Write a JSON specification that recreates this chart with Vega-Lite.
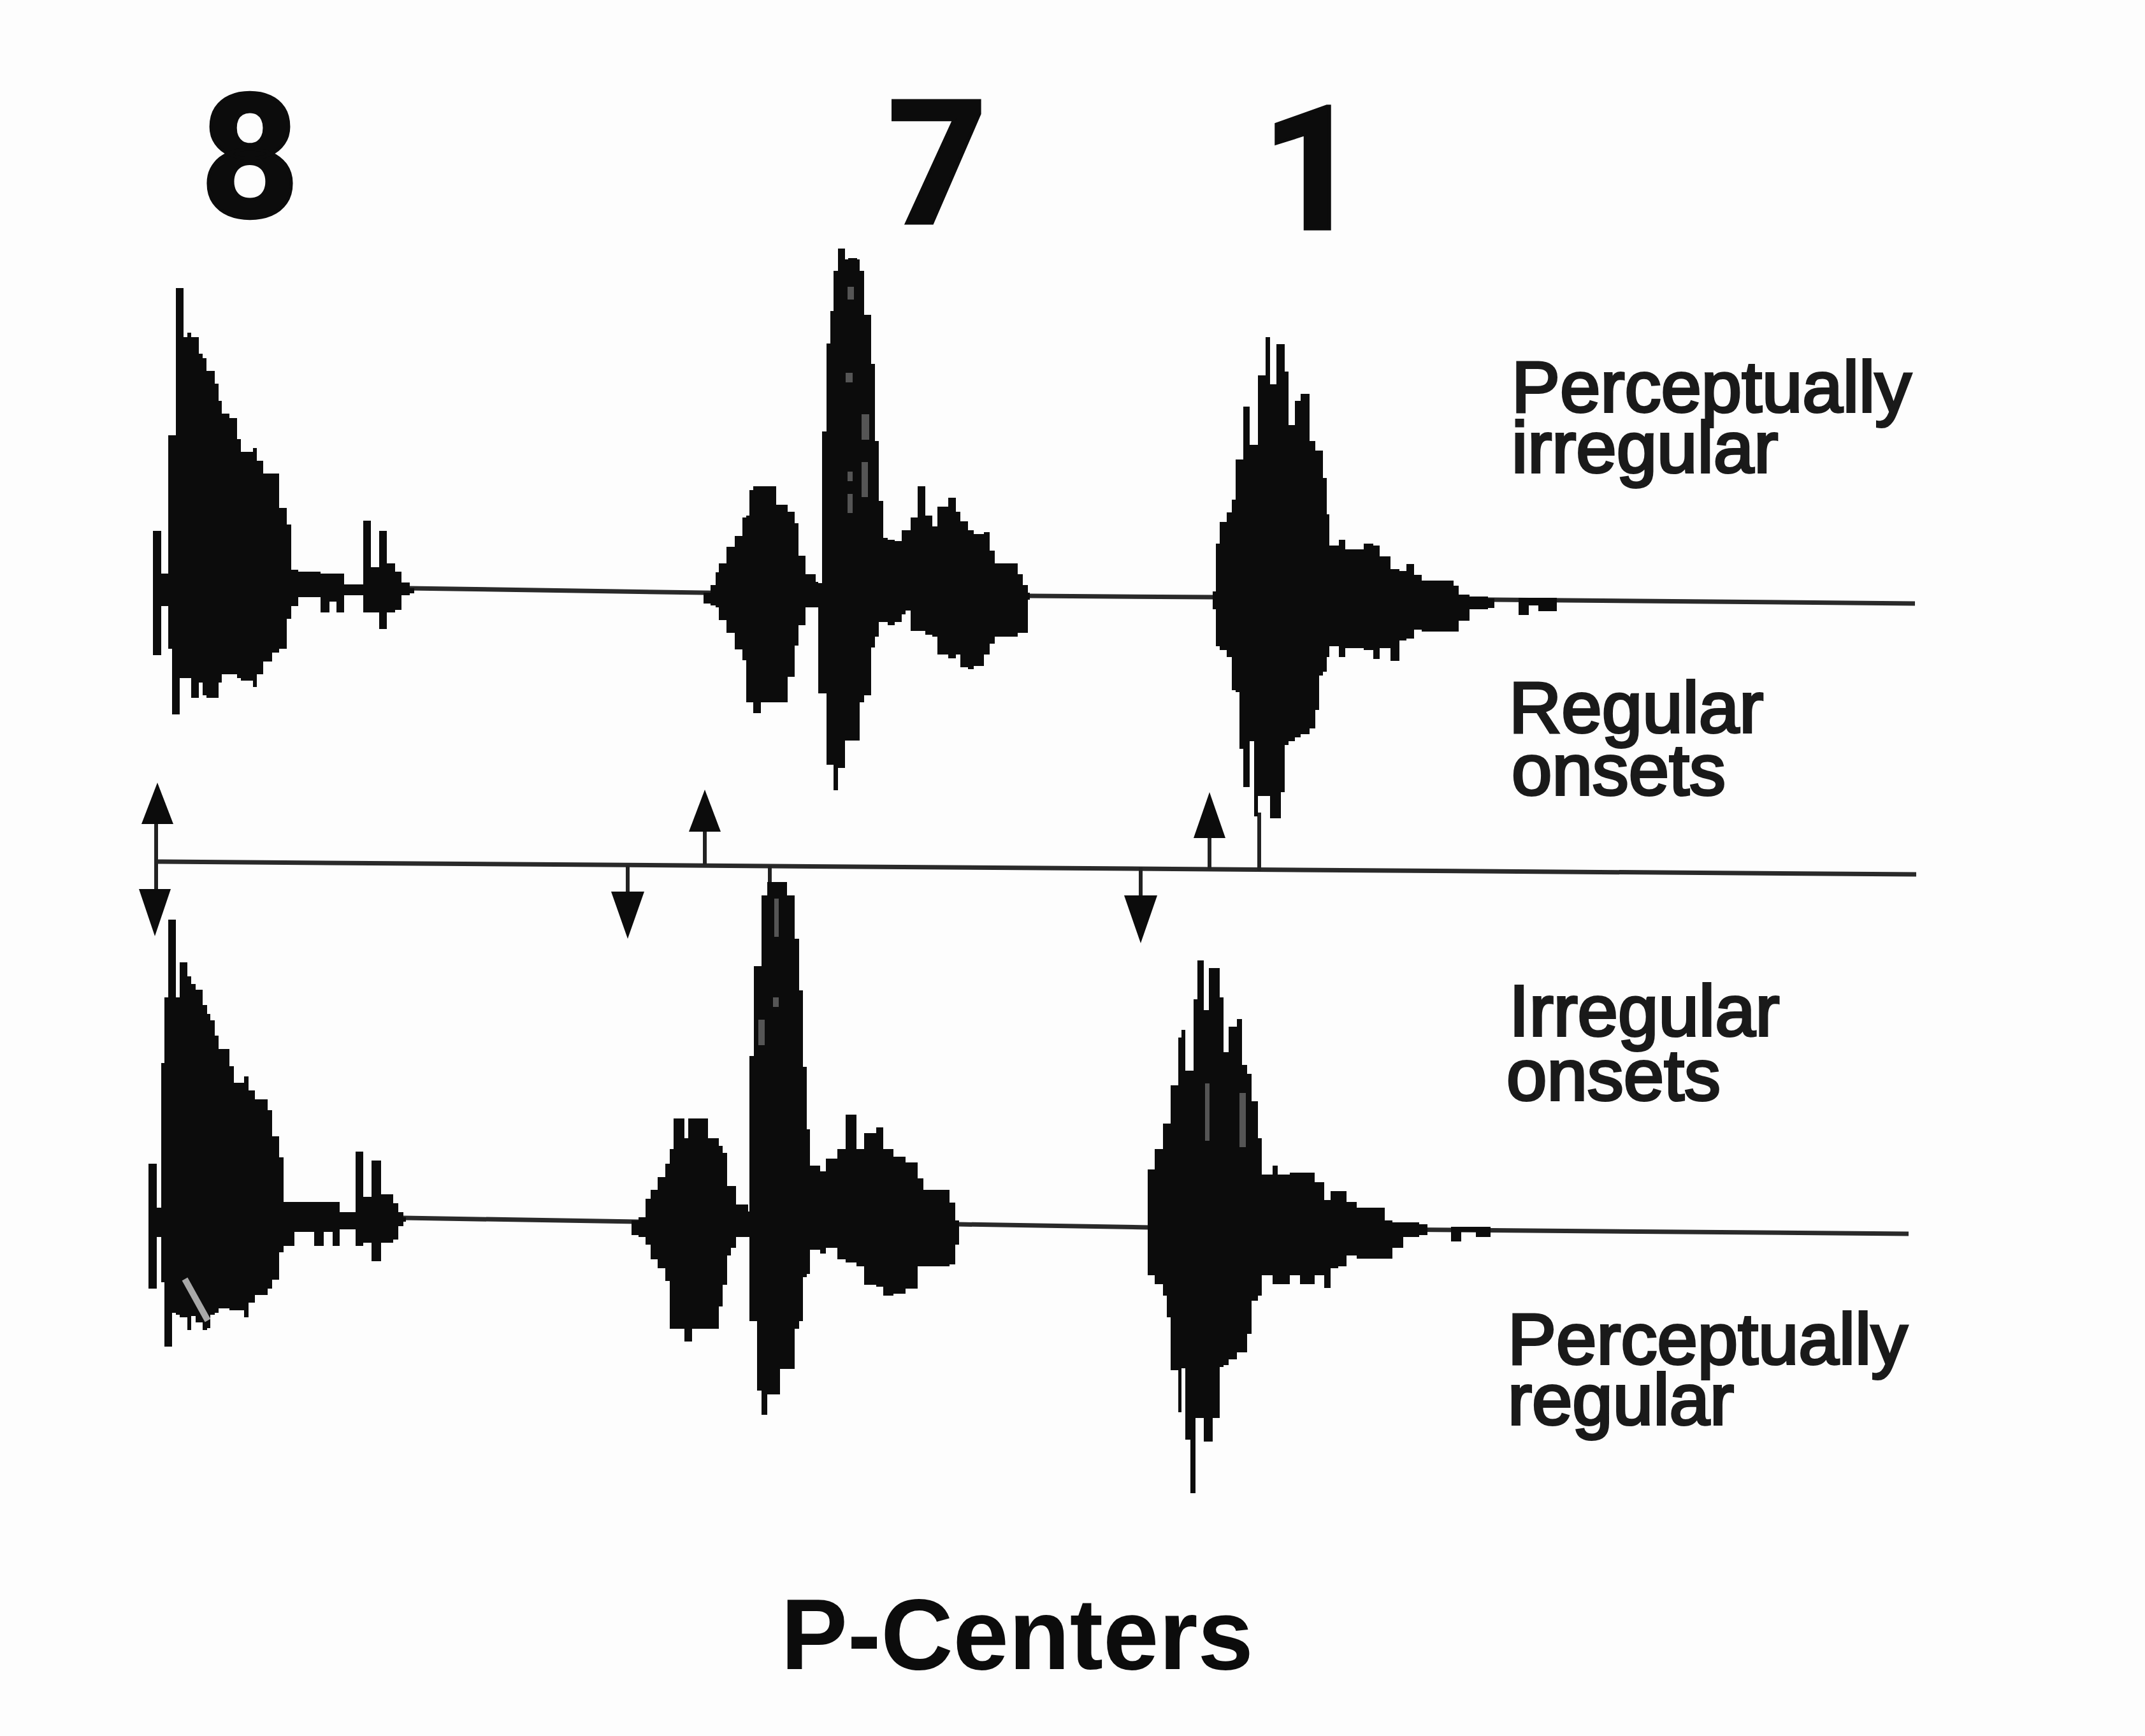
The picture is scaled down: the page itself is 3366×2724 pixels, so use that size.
{
"$schema":"https://vega.github.io/schema/vega-lite/v6.json",
"autosize":{"type":"fit","contains":"padding"},
"width":3366,"height":2724,"padding":0,
"background":"#fdfdfd",
"config":{"view":{"stroke":null}},
"datasets":{
"wave":[
{"w":"A1","t":240,"top":833,"bot":1028},{"w":"A1","t":253,"top":900,"bot":951},{"w":"A1","t":264,"top":683,"bot":1018},{"w":"A1","t":270,"top":683,"bot":1121},{"w":"A1","t":276,"top":452,"bot":1121},{"w":"A1","t":282,"top":452,"bot":1064},{"w":"A1","t":288,"top":529,"bot":1064},{"w":"A1","t":294,"top":522,"bot":1064},{"w":"A1","t":300,"top":529,"bot":1095},{"w":"A1","t":312,"top":555,"bot":1071},{"w":"A1","t":318,"top":562,"bot":1091},{"w":"A1","t":324,"top":582,"bot":1095},{"w":"A1","t":337,"top":602,"bot":1095},{"w":"A1","t":343,"top":629,"bot":1071},{"w":"A1","t":348,"top":649,"bot":1058},{"w":"A1","t":360,"top":656,"bot":1058},{"w":"A1","t":372,"top":689,"bot":1064},{"w":"A1","t":378,"top":709,"bot":1068},{"w":"A1","t":397,"top":703,"bot":1078},{"w":"A1","t":403,"top":723,"bot":1058},{"w":"A1","t":413,"top":743,"bot":1038},{"w":"A1","t":427,"top":743,"bot":1024},{"w":"A1","t":438,"top":797,"bot":1018},{"w":"A1","t":450,"top":823,"bot":971},{"w":"A1","t":457,"top":894,"bot":951},{"w":"A1","t":468,"top":897,"bot":937},{"w":"A1","t":503,"top":900,"bot":961},{"w":"A1","t":517,"top":900,"bot":944},{"w":"A1","t":528,"top":900,"bot":961},{"w":"A1","t":540,"top":917,"bot":934},{"w":"A1","t":570,"top":817,"bot":961},{"w":"A1","t":582,"top":890,"bot":961},{"w":"A1","t":595,"top":833,"bot":987},{"w":"A1","t":607,"top":884,"bot":961},{"w":"A1","t":620,"top":897,"bot":957},{"w":"A1","t":630,"top":914,"bot":934},{"w":"A1","t":643,"top":923,"bot":931},{"w":"A1","t":650,"top":923,"bot":931},
{"w":"A2","t":1104,"top":930,"bot":947},{"w":"A2","t":1115,"top":918,"bot":950},{"w":"A2","t":1123,"top":898,"bot":953},{"w":"A2","t":1128,"top":884,"bot":973},{"w":"A2","t":1140,"top":858,"bot":993},{"w":"A2","t":1153,"top":841,"bot":1019},{"w":"A2","t":1165,"top":812,"bot":1036},{"w":"A2","t":1171,"top":809,"bot":1102},{"w":"A2","t":1176,"top":769,"bot":1102},{"w":"A2","t":1182,"top":763,"bot":1119},{"w":"A2","t":1194,"top":763,"bot":1102},{"w":"A2","t":1218,"top":792,"bot":1102},{"w":"A2","t":1236,"top":803,"bot":1062},{"w":"A2","t":1247,"top":821,"bot":1013},{"w":"A2","t":1253,"top":872,"bot":981},{"w":"A2","t":1264,"top":901,"bot":953},{"w":"A2","t":1280,"top":913,"bot":953},{"w":"A2","t":1284,"top":915,"bot":1088},{"w":"A2","t":1290,"top":677,"bot":1088},{"w":"A2","t":1297,"top":539,"bot":1200},{"w":"A2","t":1303,"top":488,"bot":1200},{"w":"A2","t":1308,"top":425,"bot":1240},{"w":"A2","t":1315,"top":390,"bot":1205},{"w":"A2","t":1326,"top":407,"bot":1162},{"w":"A2","t":1331,"top":405,"bot":1162},{"w":"A2","t":1345,"top":407,"bot":1162},{"w":"A2","t":1349,"top":425,"bot":1102},{"w":"A2","t":1356,"top":494,"bot":1091},{"w":"A2","t":1367,"top":571,"bot":1016},{"w":"A2","t":1373,"top":692,"bot":999},{"w":"A2","t":1379,"top":786,"bot":976},{"w":"A2","t":1386,"top":844,"bot":976},{"w":"A2","t":1393,"top":847,"bot":981},{"w":"A2","t":1404,"top":849,"bot":976},{"w":"A2","t":1415,"top":832,"bot":964},{"w":"A2","t":1421,"top":832,"bot":958},{"w":"A2","t":1429,"top":812,"bot":990},{"w":"A2","t":1440,"top":763,"bot":990},{"w":"A2","t":1452,"top":809,"bot":996},{"w":"A2","t":1463,"top":826,"bot":999},{"w":"A2","t":1471,"top":795,"bot":1027},{"w":"A2","t":1488,"top":781,"bot":1033},{"w":"A2","t":1500,"top":803,"bot":1027},{"w":"A2","t":1507,"top":818,"bot":1047},{"w":"A2","t":1519,"top":832,"bot":1050},{"w":"A2","t":1528,"top":838,"bot":1045},{"w":"A2","t":1544,"top":835,"bot":1027},{"w":"A2","t":1553,"top":864,"bot":1010},{"w":"A2","t":1561,"top":884,"bot":999},{"w":"A2","t":1597,"top":901,"bot":993},{"w":"A2","t":1605,"top":918,"bot":993},{"w":"A2","t":1613,"top":930,"bot":941},{"w":"A2","t":1616,"top":930,"bot":941},
{"w":"A3","t":1903,"top":928,"bot":956},{"w":"A3","t":1908,"top":853,"bot":1014},{"w":"A3","t":1914,"top":819,"bot":1020},{"w":"A3","t":1925,"top":804,"bot":1031},{"w":"A3","t":1933,"top":784,"bot":1083},{"w":"A3","t":1939,"top":721,"bot":1086},{"w":"A3","t":1945,"top":721,"bot":1175},{"w":"A3","t":1951,"top":638,"bot":1235},{"w":"A3","t":1961,"top":698,"bot":1163},{"w":"A3","t":1968,"top":698,"bot":1281},{"w":"A3","t":1974,"top":589,"bot":1249},{"w":"A3","t":1986,"top":529,"bot":1249},{"w":"A3","t":1993,"top":603,"bot":1284},{"w":"A3","t":2003,"top":540,"bot":1284},{"w":"A3","t":2010,"top":540,"bot":1243},{"w":"A3","t":2016,"top":583,"bot":1169},{"w":"A3","t":2022,"top":667,"bot":1163},{"w":"A3","t":2032,"top":629,"bot":1157},{"w":"A3","t":2041,"top":618,"bot":1152},{"w":"A3","t":2055,"top":692,"bot":1143},{"w":"A3","t":2064,"top":707,"bot":1114},{"w":"A3","t":2070,"top":707,"bot":1060},{"w":"A3","t":2076,"top":750,"bot":1054},{"w":"A3","t":2082,"top":807,"bot":1031},{"w":"A3","t":2086,"top":856,"bot":1014},{"w":"A3","t":2101,"top":847,"bot":1031},{"w":"A3","t":2111,"top":862,"bot":1017},{"w":"A3","t":2140,"top":853,"bot":1020},{"w":"A3","t":2155,"top":856,"bot":1034},{"w":"A3","t":2165,"top":873,"bot":1017},{"w":"A3","t":2182,"top":893,"bot":1037},{"w":"A3","t":2196,"top":896,"bot":1005},{"w":"A3","t":2207,"top":885,"bot":1002},{"w":"A3","t":2219,"top":902,"bot":988},{"w":"A3","t":2231,"top":911,"bot":991},{"w":"A3","t":2281,"top":919,"bot":991},{"w":"A3","t":2289,"top":933,"bot":974},{"w":"A3","t":2306,"top":936,"bot":956},{"w":"A3","t":2335,"top":939,"bot":954},{"w":"A3","t":2345,"top":939,"bot":950},
{"w":"A3b","t":2383,"top":938,"bot":965},{"w":"A3b","t":2399,"top":938,"bot":950},{"w":"A3b","t":2414,"top":938,"bot":959},{"w":"A3b","t":2443,"top":938,"bot":950},
{"w":"B1","t":233,"top":1826,"bot":2022},{"w":"B1","t":246,"top":1895,"bot":1941},{"w":"B1","t":253,"top":1668,"bot":2012},{"w":"B1","t":258,"top":1565,"bot":2113},{"w":"B1","t":264,"top":1443,"bot":2113},{"w":"B1","t":270,"top":1443,"bot":2060},{"w":"B1","t":276,"top":1565,"bot":2063},{"w":"B1","t":282,"top":1510,"bot":2067},{"w":"B1","t":294,"top":1532,"bot":2087},{"w":"B1","t":300,"top":1544,"bot":2065},{"w":"B1","t":307,"top":1553,"bot":2075},{"w":"B1","t":318,"top":1577,"bot":2087},{"w":"B1","t":325,"top":1591,"bot":2084},{"w":"B1","t":330,"top":1601,"bot":2063},{"w":"B1","t":337,"top":1625,"bot":2060},{"w":"B1","t":343,"top":1646,"bot":2053},{"w":"B1","t":360,"top":1673,"bot":2056},{"w":"B1","t":367,"top":1699,"bot":2056},{"w":"B1","t":383,"top":1689,"bot":2067},{"w":"B1","t":390,"top":1711,"bot":2044},{"w":"B1","t":400,"top":1725,"bot":2032},{"w":"B1","t":420,"top":1742,"bot":2022},{"w":"B1","t":427,"top":1783,"bot":2008},{"w":"B1","t":438,"top":1816,"bot":1965},{"w":"B1","t":445,"top":1886,"bot":1955},{"w":"B1","t":462,"top":1886,"bot":1933},{"w":"B1","t":493,"top":1886,"bot":1955},{"w":"B1","t":508,"top":1886,"bot":1933},{"w":"B1","t":522,"top":1886,"bot":1955},{"w":"B1","t":533,"top":1902,"bot":1929},{"w":"B1","t":558,"top":1807,"bot":1955},{"w":"B1","t":570,"top":1878,"bot":1950},{"w":"B1","t":583,"top":1821,"bot":1979},{"w":"B1","t":598,"top":1874,"bot":1950},{"w":"B1","t":617,"top":1888,"bot":1945},{"w":"B1","t":625,"top":1902,"bot":1924},{"w":"B1","t":633,"top":1910,"bot":1917},{"w":"B1","t":637,"top":1910,"bot":1917},
{"w":"B2","t":991,"top":1915,"bot":1938},{"w":"B2","t":1002,"top":1910,"bot":1941},{"w":"B2","t":1013,"top":1881,"bot":1953},{"w":"B2","t":1021,"top":1867,"bot":1976},{"w":"B2","t":1032,"top":1847,"bot":1990},{"w":"B2","t":1044,"top":1826,"bot":2010},{"w":"B2","t":1051,"top":1803,"bot":2085},{"w":"B2","t":1057,"top":1755,"bot":2085},{"w":"B2","t":1074,"top":1786,"bot":2105},{"w":"B2","t":1080,"top":1755,"bot":2105},{"w":"B2","t":1086,"top":1755,"bot":2085},{"w":"B2","t":1111,"top":1786,"bot":2085},{"w":"B2","t":1128,"top":1798,"bot":2050},{"w":"B2","t":1134,"top":1809,"bot":2016},{"w":"B2","t":1141,"top":1861,"bot":1970},{"w":"B2","t":1147,"top":1861,"bot":1958},{"w":"B2","t":1155,"top":1890,"bot":1941},{"w":"B2","t":1174,"top":1901,"bot":1941},{"w":"B2","t":1176,"top":1657,"bot":2073},{"w":"B2","t":1183,"top":1516,"bot":2073},{"w":"B2","t":1188,"top":1516,"bot":2182},{"w":"B2","t":1195,"top":1405,"bot":2220},{"w":"B2","t":1204,"top":1384,"bot":2188},{"w":"B2","t":1224,"top":1384,"bot":2148},{"w":"B2","t":1235,"top":1405,"bot":2148},{"w":"B2","t":1247,"top":1473,"bot":2085},{"w":"B2","t":1254,"top":1554,"bot":2073},{"w":"B2","t":1260,"top":1674,"bot":2004},{"w":"B2","t":1266,"top":1772,"bot":1999},{"w":"B2","t":1271,"top":1829,"bot":1961},{"w":"B2","t":1287,"top":1838,"bot":1967},{"w":"B2","t":1296,"top":1818,"bot":1958},{"w":"B2","t":1314,"top":1803,"bot":1976},{"w":"B2","t":1327,"top":1749,"bot":1981},{"w":"B2","t":1344,"top":1803,"bot":1987},{"w":"B2","t":1356,"top":1778,"bot":2016},{"w":"B2","t":1375,"top":1769,"bot":2019},{"w":"B2","t":1386,"top":1803,"bot":2033},{"w":"B2","t":1402,"top":1815,"bot":2030},{"w":"B2","t":1421,"top":1824,"bot":2022},{"w":"B2","t":1440,"top":1849,"bot":1987},{"w":"B2","t":1449,"top":1867,"bot":1987},{"w":"B2","t":1490,"top":1887,"bot":1984},{"w":"B2","t":1499,"top":1915,"bot":1953},{"w":"B2","t":1505,"top":1915,"bot":1953},
{"w":"B3","t":1801,"top":1835,"bot":2001},{"w":"B3","t":1812,"top":1803,"bot":2015},{"w":"B3","t":1825,"top":1763,"bot":2033},{"w":"B3","t":1831,"top":1763,"bot":2067},{"w":"B3","t":1837,"top":1703,"bot":2150},{"w":"B3","t":1849,"top":1628,"bot":2216},{"w":"B3","t":1854,"top":1616,"bot":2147},{"w":"B3","t":1860,"top":1680,"bot":2259},{"w":"B3","t":1868,"top":1680,"bot":2343},{"w":"B3","t":1873,"top":1568,"bot":2343},{"w":"B3","t":1876,"top":1568,"bot":2225},{"w":"B3","t":1879,"top":1507,"bot":2225},{"w":"B3","t":1889,"top":1585,"bot":2262},{"w":"B3","t":1897,"top":1519,"bot":2262},{"w":"B3","t":1903,"top":1519,"bot":2225},{"w":"B3","t":1914,"top":1565,"bot":2145},{"w":"B3","t":1920,"top":1651,"bot":2142},{"w":"B3","t":1928,"top":1611,"bot":2133},{"w":"B3","t":1941,"top":1599,"bot":2122},{"w":"B3","t":1949,"top":1671,"bot":2122},{"w":"B3","t":1957,"top":1685,"bot":2093},{"w":"B3","t":1964,"top":1728,"bot":2041},{"w":"B3","t":1974,"top":1786,"bot":2033},{"w":"B3","t":1980,"top":1843,"bot":2001},{"w":"B3","t":1997,"top":1829,"bot":2015},{"w":"B3","t":2005,"top":1843,"bot":2015},{"w":"B3","t":2024,"top":1840,"bot":2001},{"w":"B3","t":2040,"top":1840,"bot":2015},{"w":"B3","t":2063,"top":1855,"bot":2001},{"w":"B3","t":2078,"top":1883,"bot":2021},{"w":"B3","t":2088,"top":1869,"bot":1990},{"w":"B3","t":2100,"top":1869,"bot":1987},{"w":"B3","t":2113,"top":1886,"bot":1970},{"w":"B3","t":2129,"top":1895,"bot":1975},{"w":"B3","t":2173,"top":1915,"bot":1975},{"w":"B3","t":2185,"top":1918,"bot":1958},{"w":"B3","t":2202,"top":1918,"bot":1941},{"w":"B3","t":2227,"top":1921,"bot":1938},{"w":"B3","t":2240,"top":1921,"bot":1935},
{"w":"B3b","t":2277,"top":1925,"bot":1948},{"w":"B3b","t":2293,"top":1925,"bot":1933},{"w":"B3b","t":2316,"top":1925,"bot":1941},{"w":"B3b","t":2339,"top":1925,"bot":1933}
],
"heads":[
{"w":"a","t":222,"top":1293,"bot":1293},{"w":"a","t":247,"top":1228,"bot":1293},{"w":"a","t":272,"top":1293,"bot":1293},
{"w":"b","t":218,"top":1395,"bot":1395},{"w":"b","t":243,"top":1395,"bot":1469},{"w":"b","t":268,"top":1395,"bot":1395},
{"w":"c","t":1081,"top":1305,"bot":1305},{"w":"c","t":1106,"top":1239,"bot":1305},{"w":"c","t":1131,"top":1305,"bot":1305},
{"w":"d","t":1873,"top":1315,"bot":1315},{"w":"d","t":1898,"top":1243,"bot":1315},{"w":"d","t":1923,"top":1315,"bot":1315},
{"w":"e","t":959,"top":1399,"bot":1399},{"w":"e","t":985,"top":1399,"bot":1473},{"w":"e","t":1011,"top":1399,"bot":1399},
{"w":"f","t":1764,"top":1405,"bot":1405},{"w":"f","t":1790,"top":1405,"bot":1480},{"w":"f","t":1816,"top":1405,"bot":1405}
],
"stems":[
{"t":245,"y1":1270,"y2":1420},{"t":1106,"y1":1300,"y2":1357},{"t":1898,"y1":1310,"y2":1364},{"t":1976,"y1":1275,"y2":1366},{"t":985,"y1":1358,"y2":1400},{"t":1790,"y1":1361,"y2":1406},{"t":1208,"y1":1359,"y2":1390}
],
"lines":[
{"s":"A","t":640,"y":923},{"s":"A","t":1104,"y":930},{"s":"A","t":1616,"y":935},{"s":"A","t":1903,"y":937},{"s":"A","t":3005,"y":947},
{"s":"T","t":247,"y":1352},{"s":"T","t":3007,"y":1372},
{"s":"B","t":633,"y":1911},{"s":"B","t":1000,"y":1917},{"s":"B","t":1503,"y":1921},{"s":"B","t":1803,"y":1926},{"s":"B","t":2995,"y":1936}
],
"specks":[
{"t":1327,"t2":1338,"y1":585,"y2":600},{"t":1352,"t2":1364,"y1":650,"y2":690},{"t":1330,"t2":1338,"y1":740,"y2":755},{"t":1330,"t2":1338,"y1":775,"y2":805},{"t":1352,"t2":1362,"y1":725,"y2":780},
{"t":1891,"t2":1898,"y1":1700,"y2":1790},{"t":1945,"t2":1955,"y1":1715,"y2":1800},{"t":1330,"t2":1340,"y1":450,"y2":470},
{"t":1213,"t2":1222,"y1":1565,"y2":1580},{"t":1215,"t2":1222,"y1":1410,"y2":1470},{"t":1190,"t2":1200,"y1":1600,"y2":1640}
],
"scratch":[{"t":290,"y":2007},{"t":326,"y":2072}],
"numerals":[{"label":"8","t":392,"y":340},{"label":"7","t":1471,"y":350},{"label":"1","t":2058,"y":359}],
"notes":[
{"label":"Perceptually","t":2372,"y":646},{"label":"irregular","t":2372,"y":741},{"label":"Regular","t":2368,"y":1149},{"label":"onsets","t":2372,"y":1247},{"label":"Irregular","t":2368,"y":1625},{"label":"onsets","t":2364,"y":1726},{"label":"Perceptually","t":2366,"y":2140},{"label":"regular","t":2366,"y":2235}
],
"caption":[{"label":"P-Centers","t":1596,"y":2619}]
},
"encoding":{
"x":{"field":"t","type":"quantitative","scale":{"domain":[0,3366],"nice":false,"zero":false},"axis":null},
"y":{"field":"y","type":"quantitative","scale":{"domain":[2724,0],"nice":false,"zero":false},"axis":null}
},
"layer":[
{"data":{"name":"lines"},"mark":{"type":"line","color":"#2a2a2a","strokeWidth":7},"encoding":{"detail":{"field":"s"}}},
{"data":{"name":"stems"},"mark":{"type":"rule","color":"#222222","strokeWidth":6},"encoding":{"y":{"field":"y1","type":"quantitative","scale":{"domain":[2724,0],"nice":false,"zero":false},"axis":null},"y2":{"field":"y2"}}},
{"data":{"name":"heads"},"mark":{"type":"area","color":"#0c0c0c","interpolate":"linear"},"encoding":{"y":{"field":"top","type":"quantitative","stack":null,"scale":{"domain":[2724,0],"nice":false,"zero":false},"axis":null},"y2":{"field":"bot"},"detail":{"field":"w"}}},
{"data":{"name":"wave"},"mark":{"type":"area","color":"#0c0c0c","interpolate":"step-after"},"encoding":{"y":{"field":"top","type":"quantitative","stack":null,"scale":{"domain":[2724,0],"nice":false,"zero":false},"axis":null},"y2":{"field":"bot"},"detail":{"field":"w"}}},
{"data":{"name":"specks"},"mark":{"type":"rect","color":"#555555"},"encoding":{"x":{"field":"t","type":"quantitative","scale":{"domain":[0,3366],"nice":false,"zero":false},"axis":null},"x2":{"field":"t2"},"y":{"field":"y1","type":"quantitative","scale":{"domain":[2724,0],"nice":false,"zero":false},"axis":null},"y2":{"field":"y2"}}},
{"data":{"name":"scratch"},"mark":{"type":"line","color":"#a8a8a8","strokeWidth":10}},
{"data":{"name":"numerals"},"mark":{"type":"text","font":"Roboto","fontWeight":"bold","fontSize":270,"align":"center","baseline":"alphabetic","color":"#0c0c0c","stroke":"#0c0c0c","strokeWidth":5},"encoding":{"text":{"field":"label"}}},
{"data":{"name":"notes"},"mark":{"type":"text","font":"Liberation Sans","fontSize":114,"align":"left","baseline":"alphabetic","color":"#1a1a1a","stroke":"#1a1a1a","strokeWidth":4},"encoding":{"text":{"field":"label"}}},
{"data":{"name":"caption"},"mark":{"type":"text","font":"Liberation Sans","fontWeight":"bold","fontSize":157,"align":"center","baseline":"alphabetic","color":"#0c0c0c"},"encoding":{"text":{"field":"label"}}}
]
}
